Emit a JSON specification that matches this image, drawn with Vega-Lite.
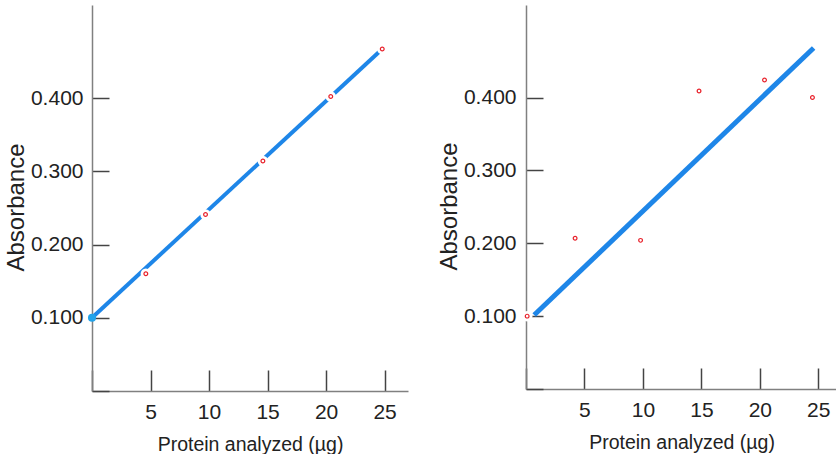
{
  "$schema": "https://vega.github.io/schema/vega-lite/v6.json",
  "padding": {"left": 4, "top": 5, "right": 0, "bottom": 0},
  "background": "white",
  "spacing": 29,
  "datasets": {
    "leftPts": [
      {"protein": 4.6, "absorbance": 0.160},
      {"protein": 9.7, "absorbance": 0.241},
      {"protein": 14.6, "absorbance": 0.314},
      {"protein": 20.4, "absorbance": 0.402},
      {"protein": 24.8, "absorbance": 0.467}
    ],
    "leftLine": [
      {"protein": 0, "absorbance": 0.100},
      {"protein": 24.8, "absorbance": 0.467}
    ],
    "leftOrigin": [
      {"protein": 0, "absorbance": 0.100}
    ],
    "rightPts": [
      {"protein": 0.1, "absorbance": 0.100},
      {"protein": 4.2, "absorbance": 0.207},
      {"protein": 9.8, "absorbance": 0.204},
      {"protein": 14.8, "absorbance": 0.409},
      {"protein": 20.4, "absorbance": 0.424},
      {"protein": 24.5, "absorbance": 0.400}
    ],
    "rightLine": [
      {"protein": 0.7, "absorbance": 0.1015},
      {"protein": 24.6, "absorbance": 0.468}
    ]
  },
  "config": {
    "view": {"stroke": null},
    "axis": {
      "grid": false,
      "domainColor": "#808080",
      "domainWidth": 1.5,
      "tickColor": "#444444",
      "tickWidth": 1.5,
      "labelFont": "Liberation Sans, Arial, sans-serif",
      "labelFontSize": 21,
      "labelColor": "#222222",
      "titleFont": "Liberation Sans, Arial, sans-serif",
      "titleFontSize": 19.5,
      "titleFontWeight": "normal",
      "titleColor": "#222222"
    },
    "axisY": {
      "titleFontSize": 24
    }
  },
  "hconcat": [
    {
      "width": 316,
      "height": 386,
      "layer": [
        {
          "data": {"name": "leftLine"},
          "mark": {"type": "line", "color": "#1E86E8", "strokeWidth": 4, "strokeCap": "butt"},
          "encoding": {
            "x": {"field": "protein", "type": "quantitative", "scale": {"domain": [0, 27], "nice": false},
              "axis": {"values": [0, 5, 10, 15, 20, 25], "labelExpr": "datum.value == 0 ? '' : datum.label", "tickSize": -21, "labelPadding": 31, "title": "Protein analyzed (µg)", "titlePadding": 13}},
            "y": {"field": "absorbance", "type": "quantitative", "scale": {"domain": [0, 0.527], "nice": false},
              "axis": {"values": [0, 0.1, 0.2, 0.3, 0.4], "format": ".3f", "labelExpr": "datum.value == 0 ? '' : datum.label", "tickSize": -17, "labelPadding": 26, "title": "Absorbance", "titlePadding": 2, "titleY": 202}}
          }
        },
        {
          "data": {"name": "leftPts"},
          "mark": {"type": "point", "shape": "circle", "filled": true, "color": "white", "size": 110, "opacity": 1},
          "encoding": {
            "x": {"field": "protein", "type": "quantitative"},
            "y": {"field": "absorbance", "type": "quantitative"}
          }
        },
        {
          "data": {"name": "leftPts"},
          "mark": {"type": "point", "shape": "circle", "filled": false, "color": "#E8202A", "size": 14, "strokeWidth": 1.2, "opacity": 1},
          "encoding": {
            "x": {"field": "protein", "type": "quantitative"},
            "y": {"field": "absorbance", "type": "quantitative"}
          }
        },
        {
          "data": {"name": "leftOrigin"},
          "mark": {"type": "point", "shape": "circle", "filled": true, "color": "#22A3EA", "size": 65, "opacity": 1},
          "encoding": {
            "x": {"field": "protein", "type": "quantitative"},
            "y": {"field": "absorbance", "type": "quantitative"}
          }
        }
      ]
    },
    {
      "width": 311,
      "height": 384,
      "layer": [
        {
          "data": {"name": "rightLine"},
          "mark": {"type": "line", "color": "#1E86E8", "strokeWidth": 5, "strokeCap": "butt"},
          "encoding": {
            "x": {"field": "protein", "type": "quantitative", "scale": {"domain": [0, 26.6], "nice": false},
              "axis": {"values": [0, 5, 10, 15, 20, 25], "labelExpr": "datum.value == 0 ? '' : datum.label", "tickSize": -21, "labelPadding": 31, "title": "Protein analyzed (µg)", "titlePadding": 13}},
            "y": {"field": "absorbance", "type": "quantitative", "scale": {"domain": [0, 0.527], "nice": false},
              "axis": {"values": [0, 0.1, 0.2, 0.3, 0.4], "format": ".3f", "labelExpr": "datum.value == 0 ? '' : datum.label", "tickSize": -17, "labelPadding": 27, "title": "Absorbance", "titlePadding": 2, "titleY": 201}}
          }
        },
        {
          "data": {"name": "rightPts"},
          "mark": {"type": "point", "shape": "circle", "filled": true, "color": "white", "size": 110, "opacity": 1},
          "encoding": {
            "x": {"field": "protein", "type": "quantitative"},
            "y": {"field": "absorbance", "type": "quantitative"}
          }
        },
        {
          "data": {"name": "rightPts"},
          "mark": {"type": "point", "shape": "circle", "filled": false, "color": "#E8202A", "size": 14, "strokeWidth": 1.2, "opacity": 1},
          "encoding": {
            "x": {"field": "protein", "type": "quantitative"},
            "y": {"field": "absorbance", "type": "quantitative"}
          }
        }
      ]
    }
  ]
}
